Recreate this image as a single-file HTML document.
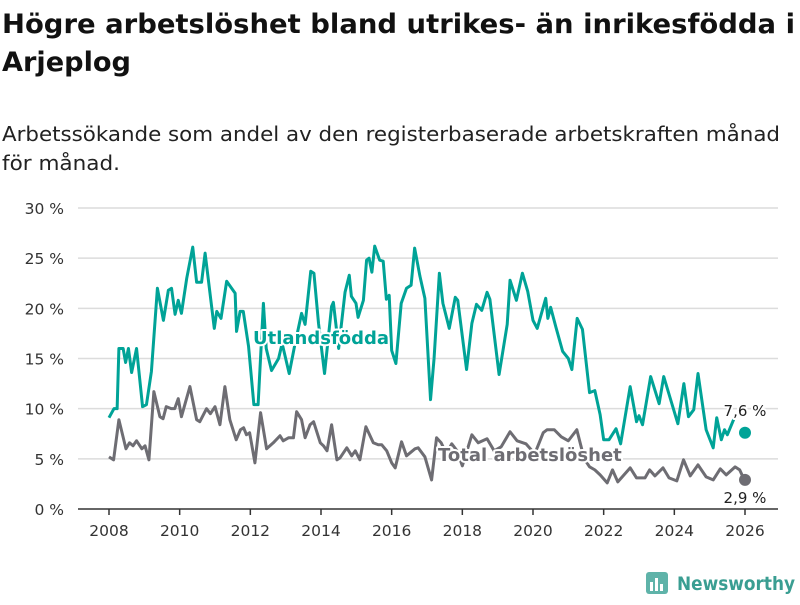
<!DOCTYPE html>
<html><head><meta charset="utf-8">
<style>
body{margin:0;background:#fff;width:800px;height:600px;overflow:hidden;font-family:"Liberation Sans","DejaVu Sans",sans-serif;}
svg text{font-family:"DejaVu Sans","Liberation Sans",sans-serif;}
</style></head>
<body>
<svg id="chart" width="800" height="600" viewBox="0 0 800 600" xmlns="http://www.w3.org/2000/svg">
<text x="2" y="33" font-size="26.5" font-weight="bold" fill="#111" textLength="793" lengthAdjust="spacingAndGlyphs">Högre arbetslöshet bland utrikes- än inrikesfödda i</text>
<text x="2" y="71" font-size="26.5" font-weight="bold" fill="#111" textLength="129" lengthAdjust="spacingAndGlyphs">Arjeplog</text>
<text x="2" y="141" font-size="20.5" fill="#222" textLength="778" lengthAdjust="spacingAndGlyphs">Arbetssökande som andel av den registerbaserade arbetskraften månad</text>
<text x="2" y="170" font-size="20.5" fill="#222" textLength="118" lengthAdjust="spacingAndGlyphs">för månad.</text>
<g id="grid"></g>
<g id="xaxis"></g>
<g id="series"></g>
<g id="labels"></g>
<g>
<rect x="646" y="572" width="22" height="22" rx="3" fill="#5fb3a9"/>
<rect x="650" y="582" width="3" height="9" fill="#fff"/><rect x="655" y="578" width="3" height="13" fill="#fff"/><rect x="660" y="584" width="3" height="7" fill="#fff"/>
<text x="677" y="590" font-size="19" font-weight="bold" fill="#3a9e92" textLength="118" lengthAdjust="spacingAndGlyphs">Newsworthy</text>
</g>
</svg>
<script>
const yTicks=[0,5,10,15,20,25,30];
const yTickLabels=["0 %","5 %","10 %","15 %","20 %","25 %","30 %"];
const xTicks=[2008,2010,2012,2014,2016,2018,2020,2022,2024,2026];
const foreignDates=[2008.0,2008.14,2008.23,2008.28,2008.4,2008.47,2008.55,2008.64,2008.78,2008.95,2009.06,2009.2,2009.37,2009.54,2009.68,2009.77,2009.87,2009.96,2010.05,2010.2,2010.37,2010.48,2010.62,2010.72,2010.98,2011.05,2011.17,2011.33,2011.57,2011.61,2011.71,2011.8,2011.95,2012.1,2012.22,2012.37,2012.45,2012.6,2012.8,2012.9,2013.1,2013.25,2013.45,2013.55,2013.71,2013.8,2013.93,2014.1,2014.3,2014.35,2014.5,2014.68,2014.8,2014.86,2014.99,2015.05,2015.2,2015.29,2015.36,2015.44,2015.52,2015.66,2015.76,2015.85,2015.93,2016.0,2016.12,2016.27,2016.42,2016.55,2016.65,2016.8,2016.94,2017.1,2017.2,2017.35,2017.45,2017.63,2017.8,2017.87,2018.12,2018.27,2018.4,2018.55,2018.7,2018.78,2019.04,2019.27,2019.35,2019.53,2019.7,2019.85,2020.0,2020.12,2020.36,2020.42,2020.5,2020.65,2020.84,2021.0,2021.1,2021.25,2021.4,2021.6,2021.75,2021.9,2022.0,2022.15,2022.35,2022.48,2022.75,2022.93,2023.0,2023.1,2023.33,2023.57,2023.7,2023.87,2024.1,2024.27,2024.4,2024.55,2024.67,2024.9,2025.1,2025.2,2025.33,2025.42,2025.5,2025.7];
const foreignValues=[9.1,10.0,10.0,16.0,16.0,14.6,16.0,13.6,16.0,10.2,10.4,13.7,22.0,18.8,21.8,22.0,19.4,20.8,19.5,23.0,26.1,22.6,22.6,25.5,18.0,19.7,19.0,22.7,21.5,17.7,19.7,19.7,16.2,10.4,10.4,20.5,16.0,13.8,15.0,16.5,13.5,16.2,19.5,18.4,23.7,23.5,18.5,13.5,20.2,20.6,16.0,21.6,23.3,21.2,20.5,19.1,20.8,24.8,25.0,23.6,26.2,24.8,24.7,20.9,21.3,15.8,14.5,20.5,22.0,22.3,26.0,23.2,21.0,10.9,15.0,23.5,20.5,18.0,21.1,20.8,13.9,18.5,20.4,19.8,21.6,20.9,13.4,18.4,22.8,20.8,23.5,21.7,18.8,18.0,21.0,19.0,20.1,18.1,15.7,15.0,13.9,19.0,17.9,11.6,11.8,9.4,6.9,6.9,8.0,6.5,12.2,8.7,9.3,8.4,13.2,10.5,13.2,11.2,8.5,12.5,9.2,9.9,13.5,7.9,6.1,9.1,6.9,7.9,7.4,9.1];
const totalDates=[2008.0,2008.13,2008.28,2008.48,2008.58,2008.68,2008.78,2008.93,2009.02,2009.13,2009.27,2009.44,2009.53,2009.62,2009.76,2009.86,2009.96,2010.05,2010.29,2010.48,2010.57,2010.76,2010.87,2011.0,2011.14,2011.28,2011.42,2011.6,2011.72,2011.81,2011.89,2011.98,2012.13,2012.29,2012.46,2012.65,2012.84,2012.93,2013.08,2013.22,2013.31,2013.45,2013.55,2013.69,2013.79,2013.98,2014.07,2014.17,2014.3,2014.45,2014.54,2014.73,2014.87,2014.97,2015.1,2015.27,2015.48,2015.62,2015.72,2015.86,2016.0,2016.1,2016.28,2016.42,2016.66,2016.75,2016.94,2017.13,2017.27,2017.4,2017.55,2017.7,2017.85,2018.0,2018.27,2018.45,2018.7,2018.9,2019.1,2019.35,2019.55,2019.8,2020.05,2020.29,2020.4,2020.6,2020.8,2021.0,2021.24,2021.45,2021.6,2021.75,2021.9,2022.1,2022.25,2022.4,2022.55,2022.75,2022.93,2023.17,2023.3,2023.45,2023.68,2023.85,2024.07,2024.26,2024.45,2024.67,2024.9,2025.1,2025.3,2025.47,2025.72,2025.85,2025.98];
const totalValues=[5.2,4.9,8.9,6.0,6.6,6.3,6.8,6.0,6.3,4.9,11.7,9.2,9.0,10.2,10.0,10.0,11.0,9.2,12.2,8.9,8.7,10.0,9.5,10.2,8.4,12.2,8.9,6.9,7.9,8.1,7.4,7.6,4.6,9.6,6.0,6.6,7.3,6.8,7.1,7.1,9.7,8.9,7.1,8.4,8.7,6.6,6.3,5.8,8.4,4.9,5.1,6.1,5.3,5.8,4.9,8.2,6.6,6.4,6.4,5.8,4.6,4.1,6.7,5.3,6.0,6.1,5.2,2.9,7.1,6.6,5.5,6.5,5.8,4.3,7.4,6.6,7.0,5.8,6.2,7.7,6.8,6.5,5.5,7.6,7.9,7.9,7.2,6.8,7.9,5.0,4.2,3.9,3.4,2.6,3.9,2.7,3.3,4.1,3.1,3.1,3.9,3.3,4.1,3.1,2.8,4.9,3.3,4.4,3.2,2.9,4.0,3.4,4.2,3.9,2.9];
const lastForeign=7.6, lastTotal=2.9, lastDate=2026.0;

const NS="http://www.w3.org/2000/svg";
const X0=109,X1=745,Y0=509,Y1=208;
function xs(t){return X0+(t-2008)/(2026-2008)*(X1-X0);}
function ys(v){return Y0-(v/30)*(Y0-Y1);}
function mk(tag,attrs,parent){const e=document.createElementNS(NS,tag);for(const k in attrs)e.setAttribute(k,attrs[k]);parent.appendChild(e);return e;}
const grid=document.getElementById('grid');
yTicks.forEach((v,i)=>{
  if(v>0){const l=mk('line',{x1:78,x2:778,y1:ys(v),y2:ys(v),stroke:'#dcdcdc','stroke-width':1.5},grid);
  
  }
  const t=mk('text',{x:64,y:ys(v)+6,'text-anchor':'end','font-size':15.5,fill:'#333'},grid);
  t.textContent=yTickLabels[i];
  
  
});
const xa=document.getElementById('xaxis');
const ax=mk('line',{x1:78,x2:778,y1:Y0,y2:Y0,stroke:'#333','stroke-width':1.5},xa);


xTicks.forEach(y=>{
  mk('line',{x1:xs(y),x2:xs(y),y1:Y0,y2:Y0+6,stroke:'#333','stroke-width':1.5},xa);
  const t=mk('text',{x:xs(y),y:Y0+27,'text-anchor':'middle','font-size':15.5,fill:'#333'},xa);
  t.textContent=y;
  
  
});
const sg=document.getElementById('series');
function line(d,v,col,name){
  const p=mk('polyline',{points:d.map((t,i)=>xs(t)+','+ys(v[i])).join(' '),fill:'none',stroke:col,'stroke-width':3,'stroke-linejoin':'round'},sg);
  
  
}
line(totalDates,totalValues,'#6e6d73','total-line');
line(foreignDates,foreignValues,'#00a397','foreign-born-line');
const lg=document.getElementById('labels');
const d1=mk('circle',{cx:xs(lastDate),cy:ys(lastForeign),r:6,fill:'#00a397'},lg);


const d2=mk('circle',{cx:xs(lastDate),cy:ys(lastTotal),r:6,fill:'#6e6d73'},lg);


function lab(x,y,txt,col,fs,fw,name,anchor){
  const t=mk('text',{x:x,y:y,'font-size':fs,'font-weight':fw,fill:col,stroke:'#fff','stroke-width':4,'paint-order':'stroke','stroke-linejoin':'round','text-anchor':anchor||'start'},lg);
  t.textContent=txt;
  
  
}
lab(253,344,'Utlandsfödda','#00a397',18,'bold','foreign-series-label');
lab(438,461,'Total arbetslöshet','#6e6d73',18,'bold','total-series-label');
lab(xs(lastDate),416,(lastForeign+'').replace('.',',')+' %','#222',15,'normal','foreign-end-value','middle');
lab(xs(lastDate),503,(lastTotal+'').replace('.',',')+' %','#222',15,'normal','total-end-value','middle');
</script>
</body></html>
